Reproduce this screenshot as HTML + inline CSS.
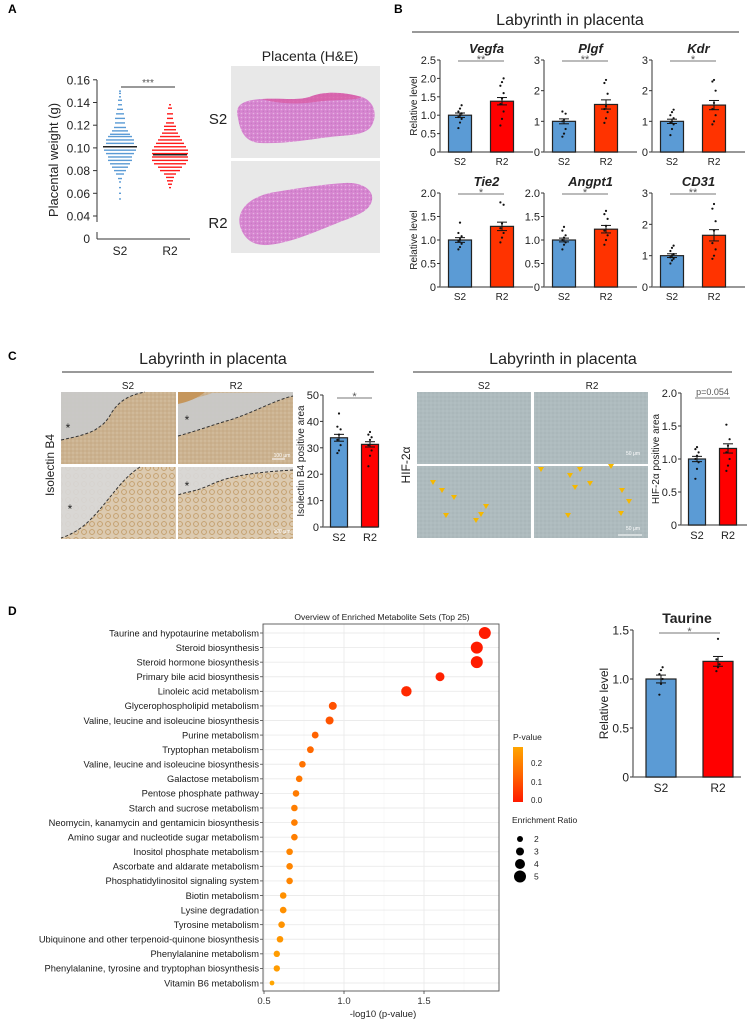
<!DOCTYPE html>
<html><head><meta charset="utf-8"><style>
html,body{margin:0;padding:0;background:#fff;}
svg{display:block;font-family:"Liberation Sans",Arial,sans-serif;}
</style></head><body>
<svg id="fig" width="748" height="1021" viewBox="0 0 748 1021" xmlns="http://www.w3.org/2000/svg">
<defs>
<linearGradient id="pgrad" x1="0" y1="1" x2="0" y2="0"><stop offset="0" stop-color="#ff1a00"/><stop offset="0.5" stop-color="#ff6600"/><stop offset="1" stop-color="#ffa500"/></linearGradient>
<pattern id="tex1" width="4" height="4" patternUnits="userSpaceOnUse"><rect width="4" height="4" fill="#cbb290"/><circle cx="1" cy="1" r="0.7" fill="#d9c6a8"/><circle cx="3" cy="3" r="0.5" fill="#b8976a"/></pattern>
<pattern id="tex2" width="8" height="8" patternUnits="userSpaceOnUse"><rect width="8" height="8" fill="#dccab0"/><circle cx="4" cy="4" r="2.4" fill="none" stroke="#c29c68" stroke-width="0.9"/></pattern>
<pattern id="tex3" width="4" height="4" patternUnits="userSpaceOnUse"><rect width="4" height="4" fill="#aebbbe"/><circle cx="1" cy="1" r="0.5" fill="#96a5aa"/><circle cx="3" cy="3" r="0.5" fill="#c0cbcd"/></pattern>
<pattern id="he" width="4" height="4" patternUnits="userSpaceOnUse"><rect width="4" height="4" fill="#d685d0"/><circle cx="1.5" cy="1.5" r="0.8" fill="#e6b2e2"/><circle cx="3.2" cy="3.2" r="0.4" fill="#a860a8"/></pattern>
</defs>
<g id="root"></g>
</svg>
<script>
// ---------- DATA ----------
const groups=['S2','R2'];
const weightBinsS2=[0.150,0.148,0.145,0.142,0.138,0.134,0.130,0.126,0.122,0.118,0.115,0.112,0.110,0.107,0.104,0.101,0.098,0.095,0.092,0.089,0.086,0.083,0.080,0.077,0.073,0.070,0.065,0.060,0.055];
const weightCountS2=[1,1,1,2,2,3,4,5,5,6,8,10,12,14,14,16,16,14,12,12,10,8,6,4,2,1,1,1,1];
const weightBinsR2=[0.138,0.135,0.130,0.126,0.122,0.119,0.116,0.113,0.110,0.107,0.104,0.101,0.098,0.095,0.092,0.089,0.086,0.083,0.080,0.077,0.074,0.071,0.068,0.065];
const weightCountR2=[1,2,3,3,4,6,6,8,10,12,14,16,18,18,18,18,16,12,10,6,4,3,2,1];
const weightMeans=[0.101,0.094];
const weightTicks=[0.04,0.06,0.08,0.10,0.12,0.14,0.16];
const genes=['Vegfa','Plgf','Kdr','Tie2','Angpt1','CD31'];
const geneS2=[1.0,1.0,1.0,1.0,1.0,1.0];
const geneR2=[1.38,1.55,1.53,1.29,1.23,1.65];
const geneSemS2=[0.06,0.08,0.07,0.05,0.04,0.06];
const geneSemR2=[0.10,0.15,0.15,0.09,0.08,0.18];
const geneMax=[2.5,3,3,2,2,3];
const geneSig=['**','**','*','*','*','**'];
const geneDotsS2=[[0.65,0.8,0.9,0.95,1.0,1.05,1.1,1.18,1.27],[0.5,0.6,0.75,1.0,1.05,1.25,1.32],[0.55,0.75,0.9,0.95,1.0,1.1,1.2,1.3,1.38],[0.8,0.85,0.92,0.98,1.02,1.08,1.15,1.37],[0.8,0.9,0.95,1.0,1.05,1.1,1.2,1.28],[0.75,0.85,0.9,0.95,1.0,1.05,1.15,1.25,1.32]];
const geneDotsR2=[[0.72,0.9,1.1,1.3,1.45,1.6,1.8,1.9,2.0],[0.95,1.1,1.3,1.4,1.5,1.9,2.25,2.35],[0.9,1.0,1.2,1.4,1.6,2.0,2.3,2.35],[0.95,1.05,1.15,1.25,1.35,1.75,1.8],[0.9,1.0,1.1,1.2,1.3,1.45,1.55,1.62],[0.9,1.0,1.2,1.4,1.8,2.1,2.5,2.65]];
const ib4Vals=[33.8,31.3];
const ib4Sem=[1.3,1.0];
const ib4Ticks=[0,10,20,30,40,50];
const ib4DotsS2=[28,29,31,33,35,37,38,43];
const ib4DotsR2=[23,27,29,31,33,34,35,36];
const hifVals=[1.0,1.16];
const hifSem=[0.04,0.07];
const hifTicks=[0,0.5,1.0,1.5,2.0];
const hifDotsS2=[0.7,0.85,0.95,1.0,1.05,1.1,1.15,1.18];
const hifDotsR2=[0.82,0.9,1.0,1.1,1.2,1.3,1.52];
const pathways=['Taurine and hypotaurine metabolism','Steroid biosynthesis','Steroid hormone biosynthesis','Primary bile acid biosynthesis','Linoleic acid metabolism','Glycerophospholipid metabolism','Valine, leucine and isoleucine biosynthesis','Purine metabolism','Tryptophan metabolism','Valine, leucine and isoleucine biosynthesis','Galactose metabolism','Pentose phosphate pathway','Starch and sucrose metabolism','Neomycin, kanamycin and gentamicin biosynthesis','Amino sugar and nucleotide sugar metabolism','Inositol phosphate metabolism','Ascorbate and aldarate metabolism','Phosphatidylinositol signaling system','Biotin metabolism','Lysine degradation','Tyrosine metabolism','Ubiquinone and other terpenoid-quinone biosynthesis','Phenylalanine metabolism','Phenylalanine, tyrosine and tryptophan biosynthesis','Vitamin B6 metabolism'];
const negLogP=[1.88,1.83,1.83,1.60,1.39,0.93,0.91,0.82,0.79,0.74,0.72,0.70,0.69,0.69,0.69,0.66,0.66,0.66,0.62,0.62,0.61,0.60,0.58,0.58,0.55];
const enrichRatio=[5,5,5,3.5,4.2,3,3,2.4,2.4,2.3,2.3,2.3,2.3,2.3,2.3,2.3,2.3,2.3,2.3,2.3,2.3,2.3,2.2,2.2,1.4];
const xTicksD=[0.5,1.0,1.5];
const legendRatios=[2,3,4,5];
const taurineVals=[1.0,1.18];
const taurineSem=[0.04,0.05];
const taurineTicks=[0,0.5,1.0,1.5];
const taurineDotsS2=[0.84,0.95,1.0,1.05,1.09,1.12];
const taurineDotsR2=[1.08,1.12,1.15,1.2,1.41];

// ---------- HELPERS ----------
const NS='http://www.w3.org/2000/svg';
const root=document.getElementById('root');
function el(tag,attrs,parent,text){const e=document.createElementNS(NS,tag);for(const k in attrs)e.setAttribute(k,attrs[k]);if(text!==undefined)e.textContent=text;(parent||root).appendChild(e);return e;}
function txt(x,y,s,size,opts,parent){opts=opts||{};const a={x:x,y:y,'font-size':size,fill:opts.fill||'#222','text-anchor':opts.anchor||'middle'};if(opts.weight)a['font-weight']=opts.weight;if(opts.style)a['font-style']=opts.style;if(opts.rot)a.transform='rotate(-90 '+x+' '+y+')';return el('text',a,parent,s);}
function line(x1,y1,x2,y2,stroke,w,parent){return el('line',{x1:x1,y1:y1,x2:x2,y2:y2,stroke:stroke,'stroke-width':w},parent);}
function fmt(v,dec){return v===0?'0':v.toFixed(dec);}

function barChart(c){
  const g=el('g',{});
  
  
  const y=v=>c.bottom-(v/c.max)*(c.bottom-c.top);
  line(c.x0,c.top,c.x0,c.bottom,'#333',1,g);
  line(c.x0,c.bottom,c.axisEnd,c.bottom,'#777',1.5,g);
  c.ticks.forEach(t=>{
    line(c.x0-3,y(t),c.x0,y(t),'#333',1,g);
    const tl=txt(c.x0-4,y(t)+c.tf*0.36,fmt(t,c.dec),c.tf,{anchor:'end'},g);
    
    
  });
  c.vals.forEach((v,i)=>{
    const cx=c.barX[i];
    const b=el('rect',{x:cx-c.barW/2,y:y(v),width:c.barW,height:c.bottom-y(v),fill:c.colors[i],stroke:'#222','stroke-width':1.2},g);
    
    
    const dots=i===0?c.dotsS2:c.dotsR2;
    dots.forEach((d,j)=>{el('circle',{cx:cx+((j%3)-1)*1.6,cy:y(d),r:1.1,fill:'#111'},g);});
    const s=c.sems[i];
    line(cx,y(v+s),cx,y(v-s),'#111',1,g);
    line(cx-5,y(v+s),cx+5,y(v+s),'#111',1,g);
    line(cx-5,y(v-s),cx+5,y(v-s),'#111',1,g);
    const xl=txt(cx,c.bottom+c.xf+3,groups[i],c.xf,{},g);
    
    
  });
  if(c.sig){
    line(c.barX[0]-2,c.sigY,c.barX[1]+2,c.sigY,'#777',1,g);
    txt((c.barX[0]+c.barX[1])/2,c.sigY-(c.sig.length>3?3:-2),c.sig,c.sig.length>3?9:11,{fill:'#555'},g);
  }
  if(c.ytitle){const t=txt(c.ytx,(c.top+c.bottom)/2,c.ytitle,c.ytf,{rot:true},g);}
  if(c.title){const t=txt((c.x0+c.axisEnd)/2,c.top-7,c.title,c.titleF,{weight:'bold',style:c.italic?'italic':'normal'},g);}
  return g;
}

['A','B','C','D'].forEach((L,i)=>{
  const pos=[[8,13],[394,13],[8,360],[8,615]][i];
  const t=txt(pos[0],pos[1],L,12,{anchor:'start',weight:'bold',fill:'#000'});
  
  
});

// ---------- PANEL A ----------
(function(){
  const g=el('g',{});
  
  
  const yA=v=>216-(v-0.04)/0.02*22.7;
  const x0=97;
  line(x0,80,x0,222,'#333',1,g);
  line(x0,232,x0,239,'#333',1,g);
  line(x0,239,190,239,'#333',1,g);
  weightTicks.forEach(t=>{line(x0-4,yA(t),x0,yA(t),'#333',1,g);txt(90,yA(t)+4.5,t.toFixed(2),12,{anchor:'end'},g);});
  txt(90,243,'0',12,{anchor:'end'},g);
  const cxs=[120,170];const cols=['#5b9bd5','#ff1a1a'];
  [[weightBinsS2,weightCountS2],[weightBinsR2,weightCountR2]].forEach((d,gi)=>{
    d[0].forEach((v,i)=>{
      const n=d[1][i];
      for(let k=0;k<n;k++){const off=(k-(n-1)/2)*2;el('rect',{x:cxs[gi]+off-1,y:yA(v)-0.7,width:2,height:1.4,fill:cols[gi]},g);}
    });
    line(cxs[gi]-17,yA(weightMeans[gi]),cxs[gi]+17,yA(weightMeans[gi]),'#222',1.5,g);
    txt(cxs[gi],255,groups[gi],12,{},g);
  });
  line(121,87,175,87,'#333',1,g);
  txt(148,86,'***',10,{fill:'#555'},g);
  const yt=txt(58,160,'Placental weight (g)',13,{rot:true},g);
  
  
  const h=el('g',{});
  
  
  txt(310,61,'Placenta (H&E)',14,{},h);
  txt(218,124,'S2',15,{},h);txt(218,228,'R2',15,{},h);
  el('rect',{x:231,y:66,width:149,height:92,fill:'#e8e8e8'},h);
  el('rect',{x:231,y:161,width:149,height:92,fill:'#e8e8e8'},h);
  el('path',{d:'M238,118 C234,104 244,100 262,99 C285,98 300,101 312,96 C325,91 345,92 362,97 C376,102 378,118 370,128 C362,136 345,135 330,137 C305,140 285,144 260,143 C244,142 240,130 238,118 Z',fill:'url(#he)'},h);
  el('path',{d:'M262,99 C285,98 300,101 312,96 C325,91 345,92 362,97 C355,101 335,99 315,102 C295,105 275,103 262,99 Z',fill:'#d9579f',opacity:0.7},h);
  el('path',{d:'M240,226 C236,210 250,196 275,192 C300,188 325,184 345,183 C362,182 374,190 372,200 C370,212 355,216 335,224 C315,232 290,243 268,245 C250,246 243,236 240,226 Z',fill:'url(#he)'},h);
})();

// ---------- PANEL B ----------
txt(570,25,'Labyrinth in placenta',16,{});
line(412,32,739,32,'#333',1);
const colX=[440,544,652];
const rowTB=[[60,152],[193,287]];
genes.forEach((gn,i)=>{
  const c=i%3,r=Math.floor(i/3);const x0=colX[c];const mx=geneMax[i];
  const ticks=mx===3?[0,1,2,3]:(mx===2.5?[0,0.5,1,1.5,2,2.5]:[0,0.5,1,1.5,2]);
  barChart({name:'bar-chart-'+gn.toLowerCase(),x0:x0,top:rowTB[r][0],bottom:rowTB[r][1],max:mx,ticks:ticks,dec:mx===3?0:1,tf:11,xf:10,
    vals:[geneS2[i],geneR2[i]],sems:[geneSemS2[i],geneSemR2[i]],dotsS2:geneDotsS2[i],dotsR2:geneDotsR2[i],
    barX:[x0+20,x0+62],barW:23,axisEnd:x0+93,colors:['#5b9bd5',i===0?'#ff0000':'#ff3300'],
    sig:geneSig[i],sigY:rowTB[r][0]+1,ytitle:c===0?'Relative level':null,ytx:417,ytf:10,title:gn,titleF:13,italic:true});
});

// ---------- PANEL C ----------
txt(213,364,'Labyrinth in placenta',16,{});
line(62,372,374,372,'#333',1);
txt(563,364,'Labyrinth in placenta',16,{});
line(413,372,732,372,'#333',1);
(function(){
  const g=el('g',{});
  
  
  txt(128,389,'S2',10,{},g);txt(236,389,'R2',10,{},g);
  [[61,392],[178,392]].forEach(p=>{el('rect',{x:p[0],y:p[1],width:115,height:72,fill:'url(#tex1)'},g);});
  [[61,467],[178,467]].forEach(p=>{el('rect',{x:p[0],y:p[1],width:115,height:72,fill:'url(#tex2)'},g);});
  el('path',{d:'M61,392 L145,392 C130,395 120,400 112,412 C105,425 100,426 95,430 C85,435 75,437 61,440 Z',fill:'#c9cacb',opacity:0.9},g);
  el('path',{d:'M61,440 C75,437 85,435 95,430 C100,426 105,425 112,412 C120,400 130,395 145,392',fill:'none',stroke:'#333','stroke-width':1,'stroke-dasharray':'3,2'},g);
  el('path',{d:'M178,403 C195,398 205,396 212,393 L293,392 L293,396 C275,400 255,412 230,420 C215,424 200,430 178,436 Z',fill:'#c9cacb',opacity:0.9},g);
  el('path',{d:'M178,392 L205,392 C198,398 188,402 178,404 Z',fill:'#c5965c'},g);
  el('path',{d:'M178,436 C200,430 215,424 230,420 C255,412 275,400 293,396',fill:'none',stroke:'#333','stroke-width':1,'stroke-dasharray':'3,2'},g);
  el('path',{d:'M61,467 L140,467 C120,480 110,500 90,520 C80,530 70,535 61,538 Z',fill:'#d8d8d8',opacity:0.9},g);
  el('path',{d:'M140,467 C120,480 110,500 90,520 C80,530 70,535 61,538',fill:'none',stroke:'#333','stroke-width':1,'stroke-dasharray':'3,2'},g);
  el('path',{d:'M178,467 L293,467 L293,470 C260,472 230,475 210,485 C195,492 185,492 178,495 Z',fill:'#d8d8d8',opacity:0.9},g);
  el('path',{d:'M293,470 C260,472 230,475 210,485 C195,492 185,492 178,495',fill:'none',stroke:'#333','stroke-width':1,'stroke-dasharray':'3,2'},g);
  txt(68,432,'*',12,{fill:'#222'},g);txt(187,424,'*',12,{fill:'#222'},g);txt(70,513,'*',12,{fill:'#222'},g);txt(187,490,'*',12,{fill:'#222'},g);
  txt(282,457,'100 μm',5,{fill:'#fff'},g);line(272,459,285,459,'#fff',1,g);
  txt(282,533,'100 μm',5,{fill:'#fff'},g);
  txt(54,465,'Isolectin B4',12,{rot:true},g);
})();
barChart({name:'bar-chart-isolectin-b4',x0:323,top:395,bottom:527,max:50,ticks:ib4Ticks,dec:0,tf:11,xf:11,
  vals:ib4Vals,sems:ib4Sem,dotsS2:ib4DotsS2,dotsR2:ib4DotsR2,barX:[339,370],barW:17,axisEnd:378,colors:['#5b9bd5','#ff0000'],
  sig:'*',sigY:398,ytitle:'Isolectin B4 positive area',ytx:304,ytf:10});
(function(){
  const g=el('g',{});
  
  
  txt(484,389,'S2',10,{},g);txt(592,389,'R2',10,{},g);
  [[417,392],[534,392],[417,466],[534,466]].forEach(p=>{el('rect',{x:p[0],y:p[1],width:114,height:72,fill:'url(#tex3)'},g);});
  const arrows=[[433,483],[442,491],[454,498],[486,507],[481,515],[446,516],[476,521],[541,470],[570,476],[580,470],[611,467],[575,488],[590,484],[622,491],[629,502],[621,514],[568,516]];
  arrows.forEach(a=>{el('path',{d:'M'+(a[0]-3)+','+(a[1]-3)+' L'+(a[0]+3)+','+(a[1]-3)+' L'+a[0]+','+(a[1]+2)+' Z',fill:'#f5b800'},g);});
  txt(633,455,'50 μm',5,{fill:'#fff'},g);txt(633,530,'50 μm',5,{fill:'#fff'},g);line(618,535,642,535,'#fff',1,g);
  txt(410,465,'HIF-2α',12,{rot:true},g);
})();
barChart({name:'bar-chart-hif2a',x0:681,top:393,bottom:525,max:2.0,ticks:hifTicks,dec:1,tf:11,xf:11,
  vals:hifVals,sems:hifSem,dotsS2:hifDotsS2,dotsR2:hifDotsR2,barX:[697,728],barW:17,axisEnd:747,colors:['#5b9bd5','#ff0000'],
  sig:'p=0.054',sigY:398,ytitle:'HIF-2α positive area',ytx:659,ytf:10});

// ---------- PANEL D ----------
(function(){
  const g=el('g',{});
  
  
  const L=263,R=499,T=624,B=991;
  const xD=v=>264+(v-0.5)*160;
  const yD=i=>633+i*(983-633)/24;
  txt(382,620,'Overview of Enriched Metabolite Sets (Top 25)',8.5,{},g);
  el('rect',{x:L,y:T,width:R-L,height:B-T,fill:'#fff'},g);
  [0.5,0.75,1.0,1.25,1.5,1.75].forEach(v=>line(xD(v),T,xD(v),B,v%0.5===0?'#ebebeb':'#f4f4f4',v%0.5===0?0.9:0.6,g));
  pathways.forEach((p,i)=>{
    line(L,yD(i),R,yD(i),'#ebebeb',0.9,g);
    line(L-3,yD(i),L,yD(i),'#444',0.8,g);
    const t=txt(259,yD(i)+3.3,p,9.3,{anchor:'end',fill:'#1a1a1a'},g);
    
    
  });
  el('rect',{x:L,y:T,width:R-L,height:B-T,fill:'none',stroke:'#555','stroke-width':0.9},g);
  negLogP.forEach((v,i)=>{
    const p=Math.pow(10,-v);const t=Math.min(p/0.28,1);
    const col='rgb(255,'+Math.round(20+145*t)+',0)';
    const c=el('circle',{cx:xD(v),cy:yD(i),r:3+(enrichRatio[i]-2)*1.0,fill:col},g);
    
    
  });
  xTicksD.forEach(v=>{line(xD(v),B,xD(v),B+3,'#444',0.8,g);txt(xD(v),B+13,v.toFixed(1),9.5,{fill:'#333'},g);});
  txt(383,1017,'-log10 (p-value)',9.5,{},g);
  const lg=el('g',{});
  
  
  txt(513,740,'P-value',8.5,{anchor:'start'},lg);
  el('rect',{x:513,y:747,width:10,height:55,fill:'url(#pgrad)'},lg);
  [['0.2',766],['0.1',785],['0.0',803]].forEach(a=>txt(531,a[1],a[0],8,{anchor:'start'},lg));
  txt(512,823,'Enrichment Ratio',8.5,{anchor:'start'},lg);
  legendRatios.forEach((r,i)=>{
    el('circle',{cx:520,cy:839+i*12.5,r:3+(r-2)*1.0,fill:'#000'},lg);
    txt(534,842+i*12.5,String(r),8.5,{anchor:'start'},lg);
  });
})();
barChart({name:'bar-chart-taurine',x0:633,top:630,bottom:777,max:1.5,ticks:taurineTicks,dec:1,tf:12,xf:12,
  vals:taurineVals,sems:taurineSem,dotsS2:taurineDotsS2,dotsR2:taurineDotsR2,barX:[661,718],barW:30,axisEnd:741,colors:['#5b9bd5','#ff0000'],
  sig:'*',sigY:633,ytitle:'Relative level',ytx:608,ytf:12,title:'Taurine',titleF:14});
</script>
</body></html>
